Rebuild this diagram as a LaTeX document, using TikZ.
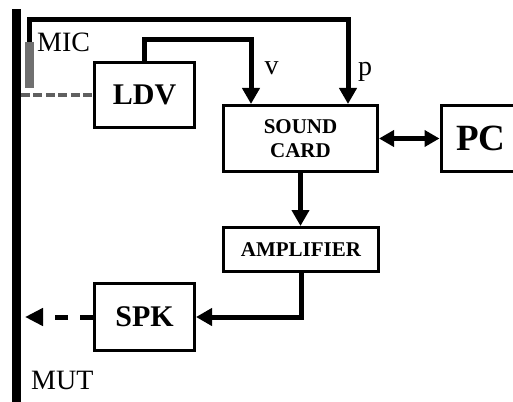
\documentclass[tikz,border=0pt]{standalone}
\usepackage{fontspec}
\setmainfont{Liberation Serif}
\usepackage{tikz}
\usetikzlibrary{arrows.meta}
\definecolor{micgray}{HTML}{707070}
\definecolor{beamgray}{HTML}{606060}
\tikzset{
  box/.style={draw, line width=3pt, inner sep=0pt, font=\bfseries\fontsize{30}{30}\selectfont},
  wire/.style={line width=5pt, -{Triangle[length=16pt, width=17pt]}},
  sigtext/.style={inner sep=0pt, font=\fontsize{28}{28}\selectfont},
}

\begin{document}
\begin{tikzpicture}[x=1pt, y=-1pt]
  \clip[use as bounding box] (0,0) rectangle (513,401);
  \node[fill, inner sep=0pt, minimum width=8.5pt, minimum height=400pt, anchor=north] (mut) at (16.5,9) {};
  \node[fill=micgray, inner sep=0pt, minimum width=9pt, minimum height=46pt] (mic) at (29.5,65) {};
  \node[box, minimum width=100pt, minimum height=65pt] (ldv) at (144.5,95) {LDV};
  \node[box, font=\bfseries\fontsize{21}{24}\selectfont, align=center, minimum width=154pt, minimum height=66pt] (sc) at (300.5,138.5) {SOUND\\CARD};
  \node[box, font=\bfseries\fontsize{37}{37}\selectfont, minimum width=80pt, minimum height=66pt] (pc) at (481,138.5) {PC};
  \node[box, font=\bfseries\fontsize{21}{21}\selectfont, minimum width=155pt, minimum height=44pt] (amp) at (301,249.5) {AMPLIFIER};
  \node[box, minimum width=100pt, minimum height=67pt] (spk) at (144.5,317) {SPK};
  \node[sigtext, anchor=base west] (miclabel) at (37,52) {MIC};
  \node[sigtext, anchor=base west] (mutlabel) at (31,389) {MUT};
  \node[sigtext, anchor=base] (vlabel) at (271.5,75) {v};
  \node[sigtext, anchor=base] (plabel) at (365,76) {p};
  \coordinate (ptop) at (348,20);
  \coordinate (vtop) at (251,39.5);
  \coordinate (spkhit) at (25,317);
  \draw[wire] (mic.north) |- (ptop) -- (ptop |- sc.north);
  \draw[wire] (ldv.north) |- (vtop) -- (vtop |- sc.north);
  \draw[line width=5pt, {Triangle[length=15pt, width=16pt]}-{Triangle[length=15pt, width=16pt]}] (sc) -- (pc);
  \draw[wire] (sc.south) -- (sc.south |- amp.north);
  \draw[wire] (amp.south) |- (spk.east);
  \draw[wire, dash pattern=on 13pt off 12pt, -{Triangle[length=18pt, width=17pt]}] (spk.west) -- (spkhit);
  \draw[beamgray, line width=4pt, dash pattern=on 9pt off 3.5pt] (mut.east |- ldv.west) -- (ldv.west);
\end{tikzpicture}
\end{document}
